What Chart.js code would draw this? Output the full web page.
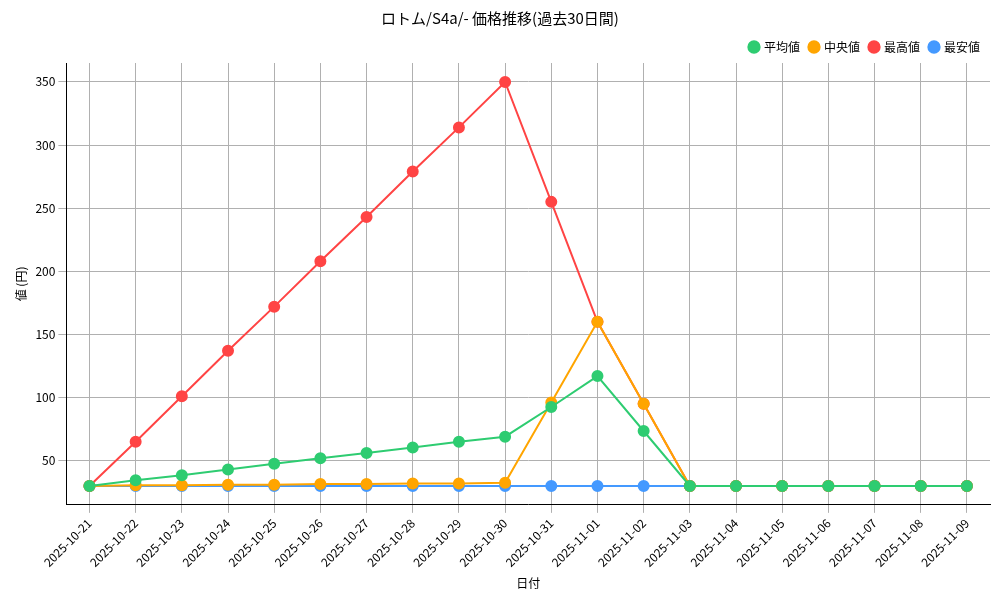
<!DOCTYPE html>
<html><head><meta charset="utf-8">
<script src="https://cdn.jsdelivr.net/npm/chart.js@4"></script>
<style>body{margin:0;background:#fff}</style>
</head><body><canvas id="chart" width="1000" height="600"></canvas>
<script>
const dates = ['2025-10-21','2025-10-22','2025-10-23','2025-10-24','2025-10-25','2025-10-26','2025-10-27','2025-10-28','2025-10-29','2025-10-30','2025-10-31','2025-11-01','2025-11-02','2025-11-03','2025-11-04','2025-11-05','2025-11-06','2025-11-07','2025-11-08','2025-11-09'];
const avgData = [30,34.5,38.5,43,47.5,52,56,60.5,65,69,92.5,117,73.5,30,30,30,30,30,30,30];
const medianData = [30,30.5,30.5,31,31,31.5,31.5,32,32,32.5,96,160,95,30,30,30,30,30,30,30];
const maxData = [30,65,101,137,172,208,243,279,314,350,255,160,95,30,30,30,30,30,30,30];
const minData = [30,30,30,30,30,30,30,30,30,30,30,30,30,30,30,30,30,30,30,30];

const font = "'Noto Sans CJK JP', 'DejaVu Sans'";
Chart.defaults.font.family = font;
Chart.defaults.color = '#000';

function ds(label, data, color) {
    return {label, data, borderColor: color, backgroundColor: color, pointRadius: 5, pointHoverRadius: 5, borderWidth: 2, tension: 0};
}

new Chart(document.getElementById('chart'), {
    type: 'line',
    data: {
        labels: dates,
        datasets: [
            ds('平均値', avgData, '#2ecc71'),
            ds('中央値', medianData, '#ffa500'),
            ds('最高値', maxData, '#ff4444'),
            ds('最安値', minData, '#4499ff')
        ]
    },
    options: {
        responsive: false,
        animation: false,
        layout: {padding: {left: 10, right: 10, top: 5, bottom: 5}},
        plugins: {
            title: {display: true, text: 'ロトム/S4a/- 価格推移(過去30日間)', font: {size: 15, weight: 'normal'}, padding: {top: 4, bottom: 4}},
            legend: {position: 'top', align: 'end', labels: {usePointStyle: true, pointStyle: 'circle', boxWidth: 8, boxHeight: 8, font: {size: 12}}}
        },
        scales: {
            x: {
                offset: true,
                title: {display: true, text: '日付', font: {size: 12}},
                ticks: {autoSkip: false, maxRotation: 45, minRotation: 45, font: {size: 12}},
                grid: {color: '#b0b0b0', offset: false},
                border: {color: '#000'}
            },
            y: {
                min: 15, max: 365,
                title: {display: true, text: '値 (円)', font: {size: 12}},
                ticks: {font: {size: 12}},
                afterBuildTicks: a => { a.ticks = [50,100,150,200,250,300,350].map(v => ({value: v})); },
                grid: {color: '#b0b0b0'},
                border: {color: '#000'}
            }
        }
    }
});
</script></body></html>
